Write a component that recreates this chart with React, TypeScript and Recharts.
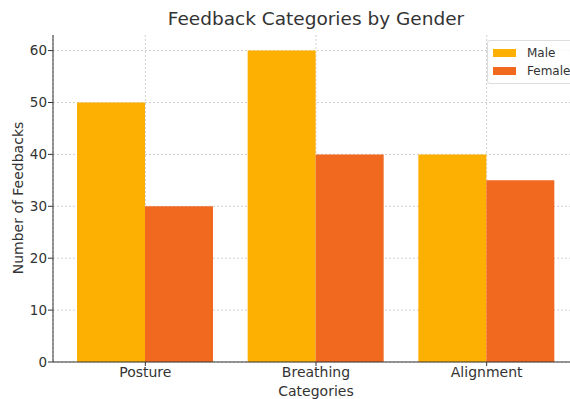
import { BarChart, Bar, XAxis, YAxis, CartesianGrid, ReferenceLine } from "recharts";

const categories = ["Posture", "Breathing", "Alignment"];
const maleCounts = [50, 60, 40];
const femaleCounts = [30, 40, 35];
const yTicks = [0, 10, 20, 30, 40, 50, 60];

const MALE = "#FDB002";
const FEMALE = "#F0691F";
const FONT = "'DejaVu Sans', sans-serif";
const INK = "#333333";
const GRID = "#cfcfcf";

const data = categories.map((name, i) => ({
  name,
  Male: maleCounts[i],
  Female: femaleCounts[i],
}));

function GenderLegend() {
  const items = [
    { label: "Male", color: MALE },
    { label: "Female", color: FEMALE },
  ];
  return (
    <div
      style={{
        position: "absolute",
        left: 487,
        top: 40,
        width: 110,
        border: "1px solid #dddddd",
        borderRadius: 3,
        background: "rgba(255,255,255,0.85)",
        padding: "3px 0 3px 5px",
        fontSize: 12,
        color: INK,
        boxSizing: "border-box",
      }}
    >
      {items.map((it) => (
        <div key={it.label} style={{ display: "flex", alignItems: "center", height: 18 }}>
          <span style={{ width: 23, height: 8, background: it.color, marginRight: 11 }} />
          {it.label}
        </div>
      ))}
    </div>
  );
}

export default function App() {
  return (
    <div
      style={{
        position: "absolute",
        left: 0,
        top: 0,
        width: 570,
        height: 399,
        overflow: "hidden",
        background: "#fff",
        fontFamily: FONT,
      }}
    >
      <div
        style={{
          position: "absolute",
          left: 316,
          top: 8,
          transform: "translateX(-50%)",
          fontSize: 18.5,
          color: INK,
          whiteSpace: "nowrap",
        }}
      >
        Feedback Categories by Gender
      </div>
      <div
        style={{
          position: "absolute",
          left: 18,
          top: 198,
          transform: "translate(-50%, -50%) rotate(-90deg)",
          fontSize: 14,
          color: INK,
          whiteSpace: "nowrap",
        }}
      >
        Number of Feedbacks
      </div>
      <div
        style={{
          position: "absolute",
          left: 316,
          top: 383,
          transform: "translateX(-50%)",
          fontSize: 14,
          color: INK,
          whiteSpace: "nowrap",
        }}
      >
        Categories
      </div>
      <BarChart
        width={600}
        height={399}
        data={data}
        margin={{ top: 35, right: 21, bottom: 0, left: 0 }}
        barCategoryGap={17}
        barGap={0}
      >
        {/* vertical grid from the category ticks; horizontal lines only at the y ticks, kept behind the bars */}
        <CartesianGrid stroke={GRID} strokeDasharray="2 2" horizontal={false} />
        {yTicks.map((t) => (
          <ReferenceLine key={t} y={t} stroke={GRID} strokeDasharray="2 2" zIndex={-50} />
        ))}
        <XAxis
          dataKey="name"
          height={37}
          padding={{ left: 7, right: 7 }}
          tickSize={4}
          tickMargin={1}
          stroke={INK}
          tick={{ fill: INK, fontSize: 14, fontFamily: FONT }}
        />
        <YAxis
          width={53}
          domain={[0, 63]}
          ticks={yTicks}
          tickSize={5}
          tickMargin={1}
          stroke={INK}
          tick={{ fill: INK, fontSize: 13.5, fontFamily: FONT }}
        />
        <Bar dataKey="Male" fill={MALE} isAnimationActive={false} />
        <Bar dataKey="Female" fill={FEMALE} isAnimationActive={false} />
      </BarChart>
      <GenderLegend />
    </div>
  );
}
